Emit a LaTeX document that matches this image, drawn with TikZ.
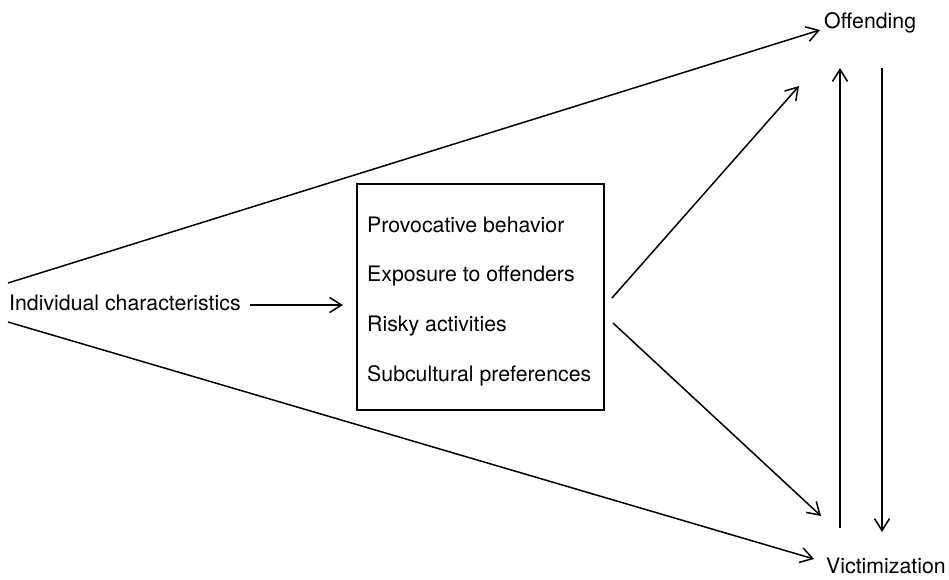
\documentclass[tikz,border=0pt]{standalone}
\usepackage{fontspec}
\setmainfont{TeX Gyre Heros}
\usetikzlibrary{arrows.meta}
\begin{document}
\begin{tikzpicture}[x=1pt,y=-1pt,
  lbl/.style={inner sep=0pt,anchor=base west,font=\fontsize{21.3}{25}\selectfont},
  arr/.style={line width=1.5pt,-{Straight Barb[length=12pt,width=15pt,line width=1.5pt]}},
  plain/.style={line width=1.5pt}]
\useasboundingbox (0,0) rectangle (949,579);
% nodes
\node[lbl] (ind) at (9,310) {Individual characteristics};
\node[lbl] (off) at (824,28) {Offending};
\node[lbl] (vic) at (826,573) {Victimization};
\node[draw,line width=1.5pt,minimum width=247pt,minimum height=226pt,inner sep=0pt] (box) at (480.5,297) {};
\node[lbl] (b1) at (367,232) {Provocative behavior};
\node[lbl] (b2) at (367,281) {Exposure to offenders};
\node[lbl] (b3) at (367,331) {Risky activities};
\node[lbl] (b4) at (367,381) {Subcultural preferences};
% connector end points
\coordinate (indout) at (250,305);
\coordinate (boxin) at (343,305);
\coordinate (indtop) at (8,283);
\coordinate (indbot) at (8,322);
\coordinate (offin) at (820,30);
\coordinate (vicin) at (814,559);
\coordinate (boxup) at (612,298);
\coordinate (boxdn) at (613,323);
\coordinate (offdiag) at (799,86);
\coordinate (vicdiag) at (821,516);
\coordinate (upS) at (840,528);
\coordinate (upE) at (840,68);
\coordinate (dnS) at (882,68);
\coordinate (dnE) at (882,532);
% connectors
\draw[arr] (indout) -- (boxin);
\draw[arr] (indtop) -- (offin);
\draw[arr] (indbot) -- (vicin);
\draw[arr] (boxup) -- (offdiag);
\draw[arr] (boxdn) -- (vicdiag);
\draw[arr] (upS) -- (upE);
\draw[arr] (dnS) -- (dnE);
\end{tikzpicture}
\end{document}
